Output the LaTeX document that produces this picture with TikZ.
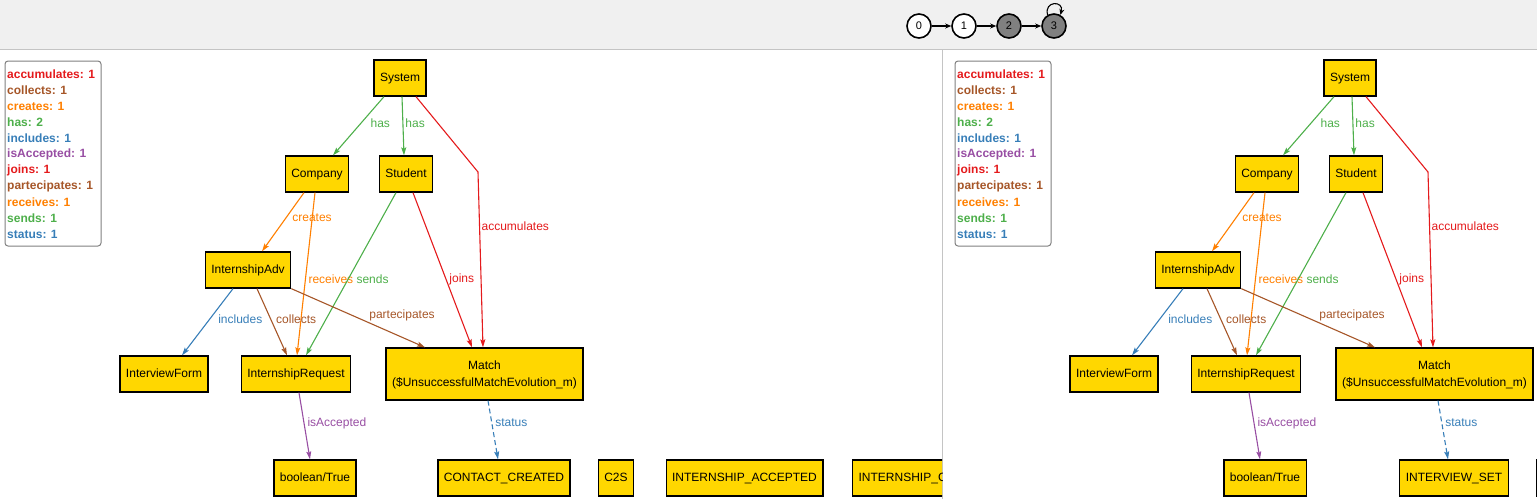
\documentclass[tikz,border=0pt]{standalone}
\usepackage{fontspec}
\setmainfont{Liberation Sans}
\usetikzlibrary{arrows.meta}
\definecolor{gold}{HTML}{FFD700}
\definecolor{cred}{HTML}{E41A1C}
\definecolor{cblue}{HTML}{377EB8}
\definecolor{cgreen}{HTML}{4DAF4A}
\definecolor{cpurple}{HTML}{984EA3}
\definecolor{corange}{HTML}{FF7F00}
\definecolor{cbrown}{HTML}{A65628}
\definecolor{barGray}{HTML}{F0F0F0}
\definecolor{lineGray}{HTML}{C4C4C4}
\definecolor{stateGray}{HTML}{808080}
\begin{document}
\begin{tikzpicture}[x=1pt,y=1pt,
                    boxNode/.style={rectangle,draw,fill=gold,line width=1.3pt,
                      minimum height=36pt,inner xsep=6pt,font=\fontsize{12}{17}\selectfont,
                      text height=9pt,text depth=2.5pt},
                    lblNode/.style={inner sep=0pt,anchor=west,font=\fontsize{12}{14}\selectfont},
                    legNode/.style={inner sep=0pt,anchor=west,font=\fontsize{12}{14}\selectfont\bfseries},
                    legBox/.style={draw=stateGray,line width=1pt,rounded corners=3pt},
                    relEdge/.style={line width=1.1pt,-{Stealth[length=8pt,width=5pt,inset=1.5pt]}},
                    stateNode/.style={circle,draw,line width=1.6pt,minimum size=24pt,
                      inner sep=0pt,font=\fontsize{11}{12}\selectfont},
                    stateEdge/.style={line width=1.1pt,-{Stealth[length=6pt,width=5pt]}}]
  \useasboundingbox (0,0) rectangle (1537,-499);
  % top bar with the state chain
  \fill[barGray] (0,0) rectangle (1537,-49);
  \draw[lineGray,line width=1pt] (0,-49.5) -- (1537,-49.5);
  \draw[lineGray,line width=1pt] (942.5,-49.5) -- (942.5,-499);
  \node[stateNode,fill=white] (s0) at (919,-26) {0};
  \node[stateNode,fill=white] (s1) at (964,-26) {1};
  \node[stateNode,fill=stateGray] (s2) at (1009,-26) {2};
  \node[stateNode,fill=stateGray] (s3) at (1054,-26) {3};
  \draw[stateEdge] (s0) -- (s1);
  \draw[stateEdge] (s1) -- (s2);
  \draw[stateEdge] (s2) -- (s3);
  \draw[stateEdge] (s3.120) .. controls +(105:15) and +(75:15) .. (s3.60);
  % the two panels
  \foreach \dx/\p/\st in {0/l/CONTACT\_CREATED,950/r/INTERVIEW\_SET}{
    \begin{scope}[shift={(\dx,0)}]
      \draw[legBox] (5,-61) rectangle (101,-246);
      \foreach \t/\c [count=\i from 0] in {accumulates: 1/cred,collects: 1/cbrown,
          creates: 1/corange,has: 2/cgreen,includes: 1/cblue,isAccepted: 1/cpurple,
          joins: 1/cred,partecipates: 1/cbrown,receives: 1/corange,sends: 1/cgreen,
          status: 1/cblue}
        \node[legNode,text=\c] (\p-leg\i) at (7,-74-16*\i) {\t};
      \node[boxNode] (\p-sys) at (400,-78) {System};
      \node[boxNode] (\p-comp) at (317,-174) {Company};
      \node[boxNode] (\p-stud) at (406,-174) {Student};
      \node[boxNode] (\p-adv) at (248,-270) {InternshipAdv};
      \node[boxNode] (\p-form) at (164,-374) {InterviewForm};
      \node[boxNode] (\p-req) at (296,-374) {InternshipRequest};
      \node[boxNode,minimum height=52pt,align=center,text height=,text depth=0pt] (\p-match) at (484.5,-374)
        {Match\\(\$UnsuccessfulMatchEvolution\_m)};
      \node[boxNode] (\p-bool) at (315,-478) {boolean/True};
      \node[boxNode] (\p-stat) at (504,-478) {\st};
      \coordinate (\p-bend) at (478,-172);
      \draw[relEdge,cgreen] ([xshift=-16pt]\p-sys.south) --
        node[lblNode,pos=0.45,xshift=9pt] {has} ([xshift=16pt]\p-comp.north);
      \draw[relEdge,cgreen] ([xshift=2pt]\p-sys.south) --
        node[lblNode,pos=0.45,xshift=2pt] {has} ([xshift=-2pt]\p-stud.north);
      \draw[relEdge,cred] ([xshift=16pt]\p-sys.south) -- (\p-bend) --
        node[lblNode,pos=0.307,xshift=1.5pt] {accumulates} ([xshift=-1.5pt]\p-match.north);
      \draw[relEdge,corange] ([xshift=-13pt]\p-comp.south) --
        node[lblNode,pos=0.433,xshift=6pt] {creates} ([xshift=14pt]\p-adv.north);
      \draw[relEdge,corange] ([xshift=-2pt]\p-comp.south) --
        node[lblNode,pos=0.53,xshift=2.5pt] {receives} ([xshift=1pt]\p-req.north);
      \draw[relEdge,cgreen] ([xshift=-10pt]\p-stud.south) --
        node[lblNode,pos=0.53,xshift=7.7pt] {sends} ([xshift=10pt]\p-req.north);
      \draw[relEdge,cred] ([xshift=7pt]\p-stud.south) --
        node[lblNode,pos=0.558,xshift=3pt] {joins} ([xshift=-12.5pt]\p-match.north);
      \draw[relEdge,cblue] ([xshift=-15pt]\p-adv.south) --
        node[lblNode,pos=0.456,xshift=8pt] {includes} ([xshift=18pt]\p-form.north);
      \draw[relEdge,cbrown] ([xshift=9pt]\p-adv.south) --
        node[lblNode,pos=0.456,xshift=5pt] {collects} ([xshift=-9pt]\p-req.north);
      \draw[relEdge,cbrown] (\p-adv.south east) --
        node[lblNode,pos=0.828,anchor=center,yshift=21.7pt] {partecipates} ([xshift=-59.5pt]\p-match.north);
      \draw[relEdge,cpurple] ([xshift=3pt]\p-req.south) --
        node[lblNode,pos=0.456,xshift=3pt] {isAccepted} ([xshift=-5pt]\p-bool.north);
      \draw[relEdge,cblue,dash pattern=on 5pt off 3pt] ([xshift=3.5pt]\p-match.south) --
        node[lblNode,pos=0.383,xshift=3pt] {status} ([xshift=-6pt]\p-stat.north);
    \end{scope}
  }
  % rest of the bottom row
  \node[boxNode] (l-c2s) at (616,-478) {C2S};
  \node[boxNode] (l-acc) at (744.5,-478) {INTERNSHIP\_ACCEPTED};
  \begin{scope}
    \clip (0,-49) rectangle (942,-499);
    \node[boxNode,anchor=west,text width=150pt,align=left] (l-cut) at (852,-478) {INTERNSHIP\_C};
  \end{scope}
  \begin{scope}
    \clip (943,-49) rectangle (1537,-499);
    \node[boxNode,anchor=west,minimum width=60pt] (r-cut) at (1536,-478) {};
  \end{scope}
\end{tikzpicture}
\end{document}
